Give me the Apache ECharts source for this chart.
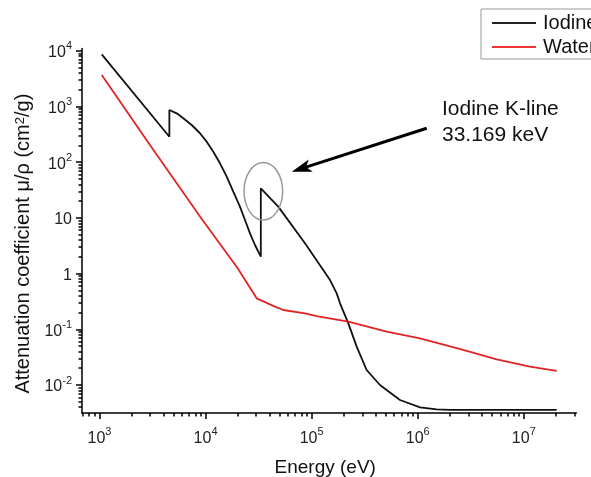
<!DOCTYPE html>
<html><head><meta charset="utf-8">
<script src="https://cdn.jsdelivr.net/npm/echarts@6/dist/echarts.min.js"></script>
<style>html,body{margin:0;padding:0;background:#fff}#c{width:591px;height:477px}</style>
</head><body><div id="c"></div>
<script>
// ---- data ----
const iodineEnergy = [1050, 4557, 4557, 5341, 6166, 7396, 8851, 10240, 11830, 13670, 15820, 18240, 21090, 23510, 26230, 29210, 33169, 33169, 48400, 86500, 149000, 172200, 185100, 221600, 265700, 329800, 440300, 680000, 1050000, 1508000, 2010000, 20400000];
const iodineMu     = [8600, 286, 863, 752, 612, 464, 330, 233, 154, 95.3, 54.8, 29.5, 15.9, 9.16, 5.28, 3.26, 2.01, 33.9, 15.9, 3.49, 0.766, 0.442, 0.293, 0.128, 0.0488, 0.0186, 0.0100, 0.00538, 0.00398, 0.00366, 0.00357, 0.00357];
const waterEnergy  = [1050, 2990, 8890, 20000, 30300, 45100, 53950, 86500, 111400, 221300, 509000, 1050000, 2680000, 5550000, 11400000, 20400000];
const waterMu      = [3660, 203, 10.5, 1.26, 0.36, 0.255, 0.222, 0.194, 0.173, 0.137, 0.0906, 0.0689, 0.0426, 0.0290, 0.0213, 0.0179];
const seriesNames  = ['Iodine', 'Water'];
const xTickValues  = [1e3, 1e4, 1e5, 1e6, 1e7];
const xTickLabels  = [['10','3'], ['10','4'], ['10','5'], ['10','6'], ['10','7']];
const yTickValues  = [1e-2, 1e-1, 1, 10, 100, 1000, 10000];
const yTickLabels  = [['10','-2'], ['10','-1'], ['1',''], ['10',''], ['10','2'], ['10','3'], ['10','4']];
const annotationLines = ['Iodine K-line', '33.169 keV'];
const kEdgeEnergy = 33169, kEdgeTopMu = 33.9;

const xMin = 684, xMax = 3.13e7, yMin = 0.00316, yMax = 11000;
const FONT = "'Liberation Sans', Arial, sans-serif";

function minorTicks(lo, hi) {
  const out = [];
  for (let e = -4; e <= 8; e++) for (let m = 2; m <= 9; m++) {
    const v = m * Math.pow(10, e);
    if (v >= lo && v <= hi) out.push(v);
  }
  return out;
}
function fmt(values, labels) {
  return function (v) {
    for (let i = 0; i < values.length; i++) {
      if (Math.abs(Math.log10(v) - Math.log10(values[i])) < 1e-6) {
        const l = labels[i];
        return '{b|' + l[0] + '}' + (l[1] ? '{s|' + l[1] + '}' : '');
      }
    }
    return '';
  };
}
const rich = {
  b: {fontSize: 16, fontFamily: FONT, color: '#222', lineHeight: 20, verticalAlign: 'bottom'},
  s: {fontSize: 11, fontFamily: FONT, color: '#222', lineHeight: 20, verticalAlign: 'top'}
};
const axisLineStyle = {color: '#000', width: 1.5};

const chart = echarts.init(document.getElementById('c'), null, {renderer: 'canvas'});
const gridPos = {left: 82, right: 14.6, top: 48.4, bottom: 64.1, containLabel: false, outerBoundsMode: 'none'};
chart.setOption({
  animation: false,
  backgroundColor: '#fff',
  grid: [Object.assign({}, gridPos), Object.assign({}, gridPos)],
  legend: {
    orient: 'vertical', left: 481, top: 9,
    data: seriesNames,
    icon: 'rect',
    itemWidth: 44, itemHeight: 2, itemGap: 2,
    padding: [3, 10, 1, 11],
    borderColor: '#999', borderWidth: 1,
    textStyle: {fontSize: 20, fontFamily: FONT, color: '#111', lineHeight: 22, padding: [0, 0, 0, 2]}
  },
  xAxis: [{
    type: 'log', gridIndex: 0, min: xMin, max: xMax,
    axisLine: {show: true, lineStyle: axisLineStyle},
    axisTick: {show: true, inside: false, length: 6, lineStyle: axisLineStyle, customValues: xTickValues},
    axisLabel: {customValues: xTickValues, formatter: fmt(xTickValues, xTickLabels), rich: rich, margin: 14},
    splitLine: {show: false},
    name: 'Energy (eV)', nameLocation: 'middle', nameGap: 45,
    nameTextStyle: {fontSize: 19, fontFamily: FONT, color: '#111', padding: [0, 8, 0, 0]}
  }, {
    type: 'log', gridIndex: 1, min: xMin, max: xMax,
    axisLine: {show: false},
    axisTick: {show: true, inside: false, length: 3.5, lineStyle: axisLineStyle, customValues: minorTicks(xMin, xMax)},
    axisLabel: {show: false}, splitLine: {show: false}
  }],
  yAxis: [{
    type: 'log', gridIndex: 0, min: yMin, max: yMax,
    axisLine: {show: true, lineStyle: axisLineStyle},
    axisTick: {show: true, inside: false, length: 6, lineStyle: axisLineStyle, customValues: yTickValues},
    axisLabel: {customValues: yTickValues, formatter: fmt(yTickValues, yTickLabels), rich: rich, margin: 10},
    splitLine: {show: false},
    name: 'Attenuation coefficient μ/ρ (cm{sup|2}/g)', nameLocation: 'middle', nameGap: 48,
    nameTextStyle: {fontSize: 20, fontFamily: FONT, color: '#111', padding: [0, 26, 0, 0],
      rich: {sup: {fontSize: 13, fontFamily: FONT, color: '#111', verticalAlign: 'top'}}}
  }, {
    type: 'log', gridIndex: 1, min: yMin, max: yMax,
    axisLine: {show: false},
    axisTick: {show: true, inside: false, length: 3.5, lineStyle: axisLineStyle, customValues: minorTicks(yMin, yMax)},
    axisLabel: {show: false}, splitLine: {show: false}
  }],
  series: [{
    name: seriesNames[0], type: 'line', xAxisIndex: 0, yAxisIndex: 0,
    data: iodineEnergy.map((e, i) => [e, iodineMu[i]]),
    symbol: 'none', smooth: false,
    lineStyle: {color: '#111', width: 1.8}, itemStyle: {color: '#222'}
  }, {
    name: seriesNames[1], type: 'line', xAxisIndex: 0, yAxisIndex: 0,
    data: waterEnergy.map((e, i) => [e, waterMu[i]]),
    symbol: 'none', smooth: false,
    lineStyle: {color: '#e02424', width: 1.8}, itemStyle: {color: '#e33'}
  }]
});

// annotation: ellipse around the K-edge jump, arrow and label
const kp = chart.convertToPixel({xAxisIndex: 0, yAxisIndex: 0}, [kEdgeEnergy, kEdgeTopMu]);
const tip = [291.7, 171.7], tail = [426.7, 128.3];
const dx = tip[0] - tail[0], dy = tip[1] - tail[1], L = Math.hypot(dx, dy);
const ux = dx / L, uy = dy / L, nx = -uy, ny = ux;
const hl = 20, hw = 6.5, inner = 15;
const base = [tip[0] - hl * ux, tip[1] - hl * uy];
chart.setOption({
  graphic: [
    {type: 'ellipse', shape: {cx: kp[0] + 2.5, cy: kp[1] + 3, rx: 19.3, ry: 28.7},
     style: {fill: 'none', stroke: '#999', lineWidth: 1.5}, z: 100},
    {type: 'line', shape: {x1: tail[0], y1: tail[1], x2: tip[0] - inner * ux, y2: tip[1] - inner * uy},
     style: {stroke: '#000', lineWidth: 3}, z: 100},
    {type: 'polygon', shape: {points: [tip,
       [base[0] + hw * nx, base[1] + hw * ny],
       [tip[0] - inner * ux, tip[1] - inner * uy],
       [base[0] - hw * nx, base[1] - hw * ny]]},
     style: {fill: '#000'}, z: 100},
    {type: 'text', x: 442, y: 109.3, style: {text: annotationLines[0], font: '21px ' + FONT, fill: '#111', verticalAlign: 'middle'}, z: 100},
    {type: 'text', x: 442, y: 134.9, style: {text: annotationLines[1], font: '21px ' + FONT, fill: '#111', verticalAlign: 'middle'}, z: 100}
  ]
});
</script>
</body></html>
